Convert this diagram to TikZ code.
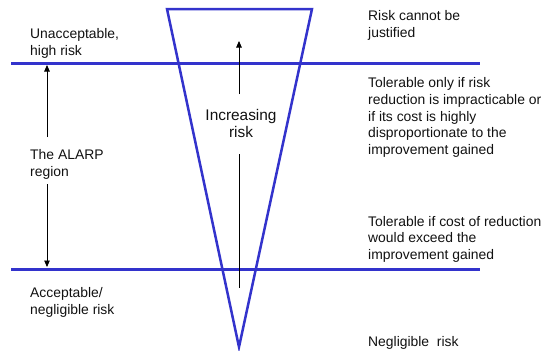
\documentclass[tikz,border=0pt]{standalone}
\usepackage{fontspec}
\setmainfont{Liberation Sans}
\usetikzlibrary{arrows.meta}
\definecolor{lineblue}{HTML}{3333CC}
\definecolor{txt}{HTML}{111111}
\begin{document}
\begin{tikzpicture}[x=1pt,y=-1pt,
  band/.style={draw=lineblue,line width=3pt},
  lbl/.style={inner sep=0pt,anchor=base west,align=left,text=txt,
    font=\fontsize{13.9pt}{16.7pt}\selectfont},
  arr/.style={line width=0.9pt,-{Triangle[width=5.5pt,length=6.5pt]}}]
\useasboundingbox (0,0) rectangle (544,351);
% triangle
\draw[draw=lineblue,line width=2.5pt,line join=miter] (167,9) -- (312,9) -- (239,347) -- cycle;
% band lines
\coordinate (tl) at (11,63);
\coordinate (tr) at (480,63);
\coordinate (bl) at (11,269);
\coordinate (br) at (480,269);
\draw[band] (tl) -- (tr);
\draw[band] (bl) -- (br);
% left texts (anchor = baseline of last line)
\node[lbl] (unacc) at (30,55) {Unacceptable,\\high risk};
\node[lbl] (alarp) at (30,176) {The ALARP\\region};
\node[lbl] (accept) at (30,314.5) {Acceptable/\\negligible risk};
% right texts
\node[lbl] (cannot) at (368,37.5) {Risk cannot be\\justified};
\node[lbl] (tolonly) at (368,154.5) {Tolerable only if risk\\reduction is impracticable or\\if its cost is highly\\disproportionate to the\\improvement gained};
\node[lbl] (tolif) at (368,259.5) {Tolerable if cost of reduction\\would exceed the\\improvement gained};
\node[lbl] (neglig) at (368,346) {Negligible\ \ risk};
% centre text
\node[inner sep=0pt,anchor=base,align=center,text=txt,
  font=\fontsize{15.4pt}{17.5pt}\selectfont] (incr) at (241,137.5) {Increasing\\risk};
% arrows
\coordinate (a1s) at (47,137);
\coordinate (a1e) at (47,65);
\coordinate (a2s) at (47,184);
\coordinate (a2e) at (47,267);
\draw[arr] (a1s) -- (a1e);
\draw[arr] (a2s) -- (a2e);
\coordinate (c1s) at (239,94);
\coordinate (c1e) at (239,41);
\coordinate (c2s) at (239,154);
\coordinate (c2e) at (239,288);
\draw[arr] (c1s) -- (c1e);
\draw[line width=0.9pt] (c2s) -- (c2e);
\end{tikzpicture}
\end{document}
